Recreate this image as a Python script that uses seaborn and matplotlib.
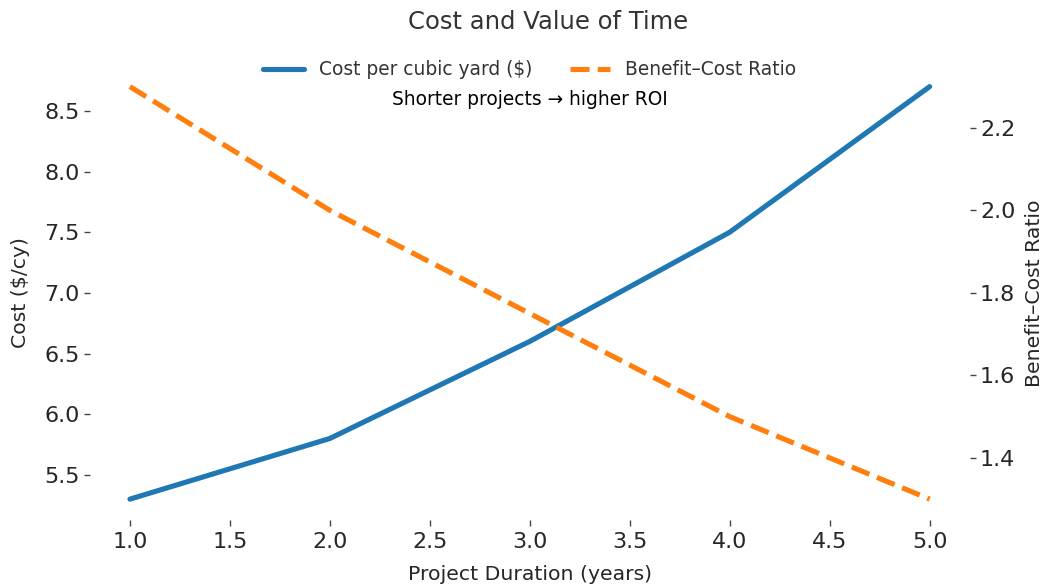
import matplotlib
matplotlib.use("Agg")
import matplotlib.pyplot as plt
import seaborn as sns
import pandas as pd

duration = [1, 2, 3, 4, 5]
cost_per_cy = [5.3, 5.8, 6.6, 7.5, 8.7]
bcr = [2.3, 2.0, 1.75, 1.5, 1.3]

sns.set_theme(style="ticks")
plt.rcParams['font.family'] = ['DejaVu Sans']

df = pd.DataFrame({"duration": duration, "cost": cost_per_cy, "bcr": bcr})

fig, ax = plt.subplots(figsize=(10.46, 5.84), dpi=100)
fig.subplots_adjust(left=0.086, right=0.927, top=0.887, bottom=0.110)

sns.lineplot(data=df, x="duration", y="cost", ax=ax, color="#1f77b4", lw=3.7,
             label="Cost per cubic yard ($)", legend=False)
ax2 = ax.twinx()
sns.lineplot(data=df, x="duration", y="bcr", ax=ax2, color="#ff7f0e", lw=3.7,
             linestyle="--", label="Benefit\u2013Cost Ratio", legend=False)

for a in (ax, ax2):
    for s in a.spines.values():
        s.set_visible(False)
    a.tick_params(labelsize=16, colors="#444444", labelcolor="#262626", length=4, width=1)
ax.tick_params(axis="x", pad=5)

ax.set_xticks([1.0, 1.5, 2.0, 2.5, 3.0, 3.5, 4.0, 4.5, 5.0])
ax.set_yticks([5.5, 6.0, 6.5, 7.0, 7.5, 8.0, 8.5])
ax2.set_yticks([1.4, 1.6, 1.8, 2.0, 2.2])
ax.xaxis.set_major_formatter(matplotlib.ticker.FormatStrFormatter("%.1f"))
ax.yaxis.set_major_formatter(matplotlib.ticker.FormatStrFormatter("%.1f"))
ax2.yaxis.set_major_formatter(matplotlib.ticker.FormatStrFormatter("%.1f"))

ax.set_xlabel("Project Duration (years)", fontsize=14.7, color="#262626", labelpad=9)
ax.set_ylabel("Cost ($/cy)", fontsize=14.7, color="#262626", labelpad=10)
ax2.set_ylabel("Benefit\u2013Cost Ratio", fontsize=14.7, color="#262626", labelpad=7)
fig.text(0.524, 0.962, "Cost and Value of Time", fontsize=17.5, color="#333333",
         ha="center", va="center")

h1, l1 = ax.get_legend_handles_labels()
h2, l2 = ax2.get_legend_handles_labels()
leg = ax.legend(h1 + h2, l1 + l2, loc="upper center", bbox_to_anchor=(0.5, 1.05),
                ncol=2, frameon=False, fontsize=13.4, handlelength=2.2, columnspacing=2.0)
for t in leg.get_texts():
    t.set_color("#333333")

ax.text(0.5, 0.927, "Shorter projects \u2192 higher ROI", transform=ax.transAxes,
        ha="center", va="center", fontsize=13.4, color="black")

fig.savefig("out.png", dpi=100)
